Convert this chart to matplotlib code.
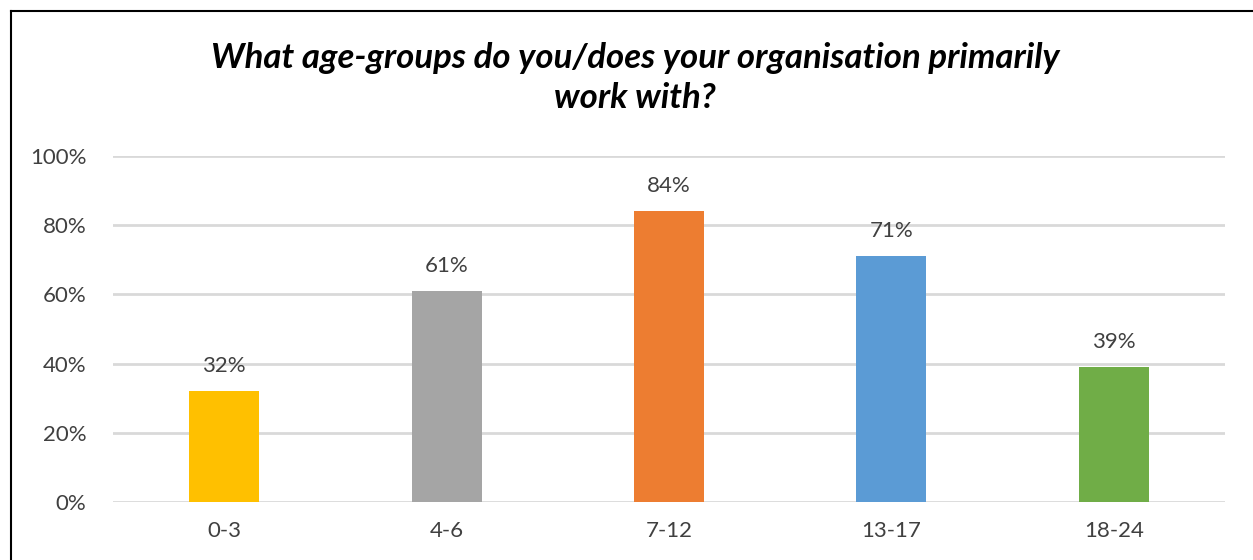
import matplotlib.pyplot as plt
from matplotlib.lines import Line2D

age_groups = ['0-3', '4-6', '7-12', '13-17', '18-24']
shares = [32, 61, 84, 71, 39]
bar_colors = ['#FFC000', '#A5A5A5', '#ED7D31', '#5B9BD5', '#70AD47']
y_ticks = [0, 20, 40, 60, 80, 100]

plt.rcParams['font.family'] = ['Lato', 'DejaVu Sans']

fig = plt.figure(figsize=(12.53, 5.6), dpi=100)
ax = fig.add_axes([113 / 1253, 1 - 502 / 560, 1112 / 1253, 346 / 560])

x = range(len(age_groups))
ax.bar(x, shares, width=0.315, color=bar_colors, zorder=3)
for xi, v in zip(x, shares):
    ax.annotate(f'{v}%', (xi, v), xytext=(0, 11), textcoords='offset points',
                ha='center', va='bottom', fontsize=16, color='#404040')

ax.set_xlim(-0.5, len(age_groups) - 0.5)
ax.set_ylim(0, 100)
ax.set_yticks(y_ticks)
ax.set_yticklabels([f'{t}%' for t in y_ticks])
ax.set_xticks(list(x))
ax.set_xticklabels(age_groups)
ax.tick_params(axis='both', length=0, labelsize=16, colors='#404040')
ax.tick_params(axis='y', pad=19)
ax.tick_params(axis='x', pad=14)
ax.grid(axis='y', color='#D9D9D9', linewidth=2, zorder=0)
for s in ax.spines.values():
    s.set_visible(False)

fig.text(635 / 1253, 1 - 78 / 560,
         'What age-groups do you/does your organisation primarily\nwork with?',
         ha='center', va='center', fontsize=25, fontweight='bold',
         fontstyle='italic', linespacing=1.3, color='black')

# chart frame, left and top edges
fig.add_artist(Line2D([11 / 1253, 11 / 1253], [0, 1 - 11 / 560],
                      transform=fig.transFigure, color='black', linewidth=1.5))
fig.add_artist(Line2D([11 / 1253, 1], [1 - 11 / 560, 1 - 11 / 560],
                      transform=fig.transFigure, color='black', linewidth=1.5))

fig.savefig('out.png', dpi=100)
